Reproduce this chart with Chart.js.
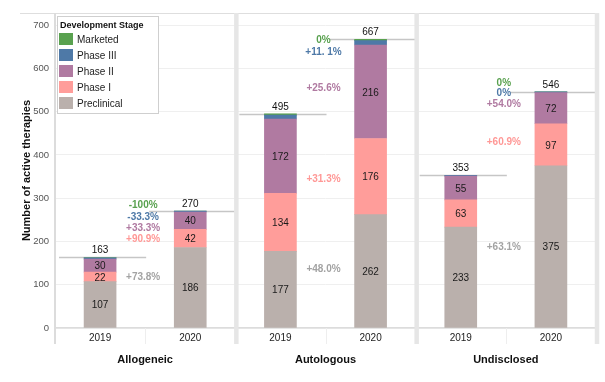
<!DOCTYPE html>
<html><head><meta charset="utf-8">
<script src="https://cdn.jsdelivr.net/npm/chart.js@4/dist/chart.umd.min.js"></script>
<style>html,body{margin:0;padding:0;background:#fff}#wrap{width:605px;height:382px;position:relative}</style>
</head><body><div id="wrap"><canvas id="c" width="605" height="382"></canvas></div>
<script>
// ---- data ----
const categories = ['2019', '2020', '2019', '2020', '2019', '2020'];
const groups = ['Allogeneic', 'Autologous', 'Undisclosed'];
const preclinical = [107, 186, 177, 262, 233, 375];
const phaseI = [22, 42, 134, 176, 63, 97];
const phaseII = [30, 40, 172, 216, 55, 72];
const phaseIII = [3, 2, 9, 10, 2, 2];
const marketed = [1, 0, 3, 3, 0, 0];
const yTicks = [0, 100, 200, 300, 400, 500, 600, 700];
// change labels per group (Allogeneic, Autologous, Undisclosed)
const changeMarketed = ['-100%', '0%', '0%'];
const changePhaseIII = ['-33.3%', '+11. 1%', '0%'];
const changePhaseII = ['+33.3%', '+25.6%', '+54.0%'];
const changePhaseI = ['+90.9%', '+31.3%', '+60.9%'];
const changePreclinical = ['+73.8%', '+48.0%', '+63.1%'];

const totals = categories.map((_, i) => preclinical[i] + phaseI[i] + phaseII[i] + phaseIII[i] + marketed[i]);

// ---- styles / layout ----
const FONT = '"Liberation Sans", Arial, Helvetica, sans-serif';
const COLORS = { marketed: '#59a14f', p3: '#4e79a7', p2: '#b07aa1', p1: '#ff9d9a', pre: '#bab0ac' };
const TEXT_COLORS = { marketed: '#59a14f', p3: '#4e79a7', p2: '#b07aa1', p1: '#ff9896', pre: '#a3a3a3' };
// vertical anchor (in data units) for the change labels of each group
const changeAnchors = {
  marketed: [284, 665, 566],
  p3: [256, 638, 543],
  p2: [231, 554, 517],
  p1: [206, 344, 430],
  pre: [118, 136, 187]
};

const annot = {
  id: 'annot',
  beforeDatasetsDraw(chart) {
    const { ctx, scales: { x, y } } = chart;
    const slot = x.getPixelForValue(1) - x.getPixelForValue(0);
    ctx.save();
    ctx.strokeStyle = '#c6c6c6';
    ctx.lineWidth = 1.5;
    totals.forEach((t, i) => {
      const cx = x.getPixelForValue(i);
      const yy = Math.round(y.getPixelForValue(t)) + 0.5;
      ctx.beginPath();
      ctx.moveTo(cx - slot / 2 + 4, yy);
      ctx.lineTo(cx + slot / 2 + 1, yy);
      ctx.stroke();
    });
    ctx.restore();
  },
  afterDraw(chart) {
    const { ctx, chartArea: ca, scales: { x, y } } = chart;
    const slot = x.getPixelForValue(1) - x.getPixelForValue(0);
    ctx.save();
    const top = ca.top, bottom = ca.bottom + 16;
    // top frame line
    ctx.strokeStyle = '#dedede'; ctx.lineWidth = 1;
    ctx.beginPath(); ctx.moveTo(20, top + 0.5); ctx.lineTo(ca.right, top + 0.5); ctx.stroke();
    // faint ticks between years
    ctx.strokeStyle = '#eeeeee'; ctx.lineWidth = 1;
    for (let g = 0; g < groups.length; g++) {
      const bx = Math.round((x.getPixelForValue(2 * g) + x.getPixelForValue(2 * g + 1)) / 2) + 0.5;
      ctx.beginPath(); ctx.moveTo(bx, ca.bottom); ctx.lineTo(bx, bottom); ctx.stroke();
    }
    // left axis line
    ctx.strokeStyle = '#dcdcdc'; ctx.lineWidth = 2;
    ctx.beginPath(); ctx.moveTo(ca.left, top); ctx.lineTo(ca.left, bottom); ctx.stroke();
    // group separators
    ctx.strokeStyle = '#e6e6e6'; ctx.lineWidth = 4.5;
    for (let g = 0; g < groups.length; g++) {
      const sx = x.getPixelForValue(2 * g + 1) + slot / 2 + 1;
      ctx.beginPath(); ctx.moveTo(sx, top); ctx.lineTo(sx, bottom); ctx.stroke();
    }
    // segment values
    ctx.textAlign = 'center'; ctx.textBaseline = 'middle';
    ctx.font = '10px ' + FONT; ctx.fillStyle = '#1a1a1a';
    [0, 1, 2].forEach(di => {
      const meta = chart.getDatasetMeta(di);
      meta.data.forEach((el, i) => {
        const p = el.getProps(['x', 'y', 'base'], true);
        ctx.fillText(String(chart.data.datasets[di].data[i]), p.x, (p.y + p.base) / 2 + 1);
      });
    });
    // totals
    ctx.fillStyle = '#111';
    totals.forEach((t, i) => {
      ctx.fillText(String(t), x.getPixelForValue(i), y.getPixelForValue(t) - 7);
    });
    // change labels
    ctx.font = 'bold 10px ' + FONT;
    const sets = [['marketed', changeMarketed], ['p3', changePhaseIII], ['p2', changePhaseII], ['p1', changePhaseI], ['pre', changePreclinical]];
    for (let g = 0; g < groups.length; g++) {
      const cx = (x.getPixelForValue(2 * g) + x.getPixelForValue(2 * g + 1)) / 2 - 2;
      sets.forEach(([k, arr]) => {
        ctx.fillStyle = TEXT_COLORS[k];
        ctx.fillText(arr[g], cx, y.getPixelForValue(changeAnchors[k][g]));
      });
    }
    // group labels
    ctx.font = 'bold 11px ' + FONT; ctx.fillStyle = '#111';
    for (let g = 0; g < groups.length; g++) {
      const cx = (x.getPixelForValue(2 * g) + x.getPixelForValue(2 * g + 1)) / 2;
      ctx.fillText(groups[g], cx, ca.bottom + 32);
    }
    // legend
    const lx = ca.left + 2, ly = ca.top + 3, lw = 101, lh = 97;
    ctx.fillStyle = '#fff'; ctx.fillRect(lx, ly, lw, lh);
    ctx.strokeStyle = '#cfcfcf'; ctx.lineWidth = 1;
    ctx.strokeRect(lx + 0.5, ly + 0.5, lw, lh);
    ctx.textAlign = 'left';
    ctx.font = 'bold 9px ' + FONT; ctx.fillStyle = '#111';
    ctx.fillText('Development Stage', lx + 3, ly + 10);
    const items = chart.data.datasets.slice().reverse();
    ctx.font = '10px ' + FONT;
    items.forEach((ds, k) => {
      const iy = ly + 23 + k * 16;
      ctx.fillStyle = ds.backgroundColor;
      ctx.fillRect(lx + 2, iy - 6, 14, 12);
      ctx.fillStyle = '#222';
      ctx.fillText(ds.label, lx + 20, iy + 1);
    });
    ctx.restore();
  }
};

new Chart(document.getElementById('c'), {
  type: 'bar',
  data: {
    labels: categories,
    datasets: [
      { label: 'Preclinical', data: preclinical, backgroundColor: COLORS.pre },
      { label: 'Phase I', data: phaseI, backgroundColor: COLORS.p1 },
      { label: 'Phase II', data: phaseII, backgroundColor: COLORS.p2 },
      { label: 'Phase III', data: phaseIII, backgroundColor: COLORS.p3 },
      { label: 'Marketed', data: marketed, backgroundColor: COLORS.marketed }
    ]
  },
  options: {
    responsive: false,
    devicePixelRatio: 1,
    animation: false,
    layout: { padding: { top: 13, right: 9, left: 0, bottom: 0 } },
    datasets: { bar: { barThickness: 32, borderWidth: 0 } },
    plugins: { legend: { display: false }, tooltip: { enabled: false } },
    scales: {
      x: {
        stacked: true,
        grid: { display: false, drawTicks: false },
        border: { display: true, color: '#dcdcdc', width: 1.5 },
        ticks: { font: { family: FONT, size: 10 }, color: '#222', padding: 4, maxRotation: 0 },
        afterFit(s) { s.height = 54; }
      },
      y: {
        stacked: true,
        min: 0, max: 728,
        afterBuildTicks(s) { s.ticks = yTicks.map(v => ({ value: v })); },
        grid: { color: '#efefef', lineWidth: 1, drawTicks: false },
        border: { display: false },
        ticks: { font: { family: FONT, size: 9.5 }, color: '#555', padding: 6 },
        title: { display: true, text: 'Number of active therapies', font: { family: FONT, size: 11, weight: 'bold' }, color: '#111', padding: { top: 20, bottom: 0 } },
        afterFit(s) { s.width = 55; }
      }
    }
  },
  plugins: [annot]
});
</script>
</body></html>
